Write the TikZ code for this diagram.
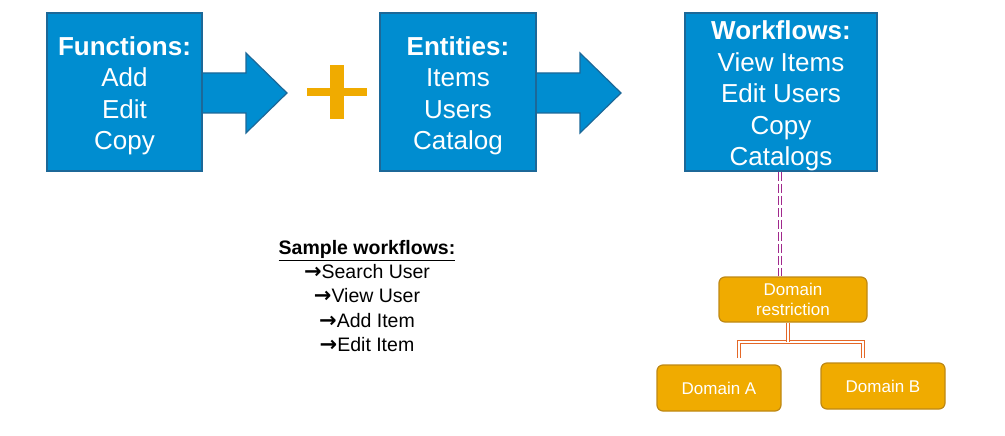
\documentclass[tikz,border=0pt]{standalone}
\usepackage{fontspec}
\setmainfont{Liberation Sans}
\newfontfamily\symfont{DejaVu Sans}
\definecolor{bluefill}{RGB}{0,141,208}
\definecolor{blueedge}{RGB}{28,104,152}
\definecolor{goldfill}{RGB}{240,171,0}
\definecolor{goldedge}{RGB}{190,136,20}
\definecolor{purpleline}{RGB}{160,40,140}
\definecolor{orangeline}{RGB}{228,104,40}
\tikzset{
  bluebox/.style={draw=blueedge, line width=1.2pt, fill=bluefill, inner sep=0pt},
  boxtext/.style={text=white, align=center, inner sep=0pt, font=\fontsize{26}{31.5}\selectfont},
  bluearrow/.style={draw=blueedge, line width=1.2pt, fill=bluefill},
  goldbox/.style={draw=goldedge, line width=1.2pt, fill=goldfill, rounded corners=6pt, text=white,
    align=center, inner sep=0pt, font=\fontsize{17}{20}\selectfont},
  purpleconn/.style={draw=purpleline, line width=1.3pt, double=white, double distance=2pt, dash pattern=on 9pt off 3pt},
  orangeconn/.style={draw=orangeline, line width=1.2pt, double=white, double distance=2pt},
  plusbar/.style={fill=goldfill, draw=none},
}
\newcommand{\arr}{{\symfont\bfseries\fontsize{21}{24.3}\selectfont →}}
\begin{document}
\begin{tikzpicture}[x=1pt,y=-1pt]
\useasboundingbox (0,0) rectangle (1005,436);
% Functions
\draw[bluearrow] (200,73) -- (246,73) -- (246,53) -- (287,93) -- (246,133) -- (246,113) -- (200,113);
\node[bluebox, minimum width=155pt, minimum height=158pt] (fn) at (124.5,92) {};
\node[boxtext] (fnt) at ([yshift=-4pt]fn.center) {\textbf{Functions:}\\Add\\Edit\\Copy};
% plus
\fill[plusbar] (330,65) rectangle (344,119);
\fill[plusbar] (307,88) rectangle (367,96);
% Entities
\draw[bluearrow] (534,73) -- (580,73) -- (580,53) -- (621,93) -- (580,133) -- (580,113) -- (534,113);
\node[bluebox, minimum width=156pt, minimum height=158pt] (en) at (458,92) {};
\node[boxtext] (ent) at ([yshift=-4pt]en.center) {\textbf{Entities:}\\Items\\Users\\Catalog};
% Workflows
\node[bluebox, minimum width=192pt, minimum height=158pt] (wf) at (781,92) {};
\node[boxtext] (wft) at ([yshift=-4pt]wf.center) {\textbf{Workflows:}\\View Items\\Edit Users\\Copy\\Catalogs};
% Sample workflows
\node[align=center, inner sep=0pt, font=\fontsize{19.5}{24.3}\selectfont] (sw) at (367,296)
  {\textbf{\underline{Sample workflows:}}\\\arr Search User\\\arr View User\\\arr Add Item\\\arr Edit Item};
% Domain boxes
\node[goldbox, minimum width=148pt, minimum height=45pt] (dr) at (793,299.5) {Domain\\restriction};
\node[goldbox, minimum width=124pt, minimum height=46pt] (da) at (719,388) {Domain A};
\node[goldbox, minimum width=124pt, minimum height=46pt] (db) at (883,386) {Domain B};
% connectors
\coordinate (dash) at (780,0);
\draw[purpleconn] (wf.south -| dash) -- (dr.north -| dash);
\coordinate (j) at (788,342);
\coordinate (la) at (739,342);
\coordinate (ra) at (863,342);
\coordinate (la2) at (739,358);
\coordinate (ra2) at (863,358);
\draw[orangeconn] (la2) -- (la) -- (ra) -- (ra2);
\draw[orangeconn] (dr.south -| j) -- (j);
\end{tikzpicture}
\end{document}
